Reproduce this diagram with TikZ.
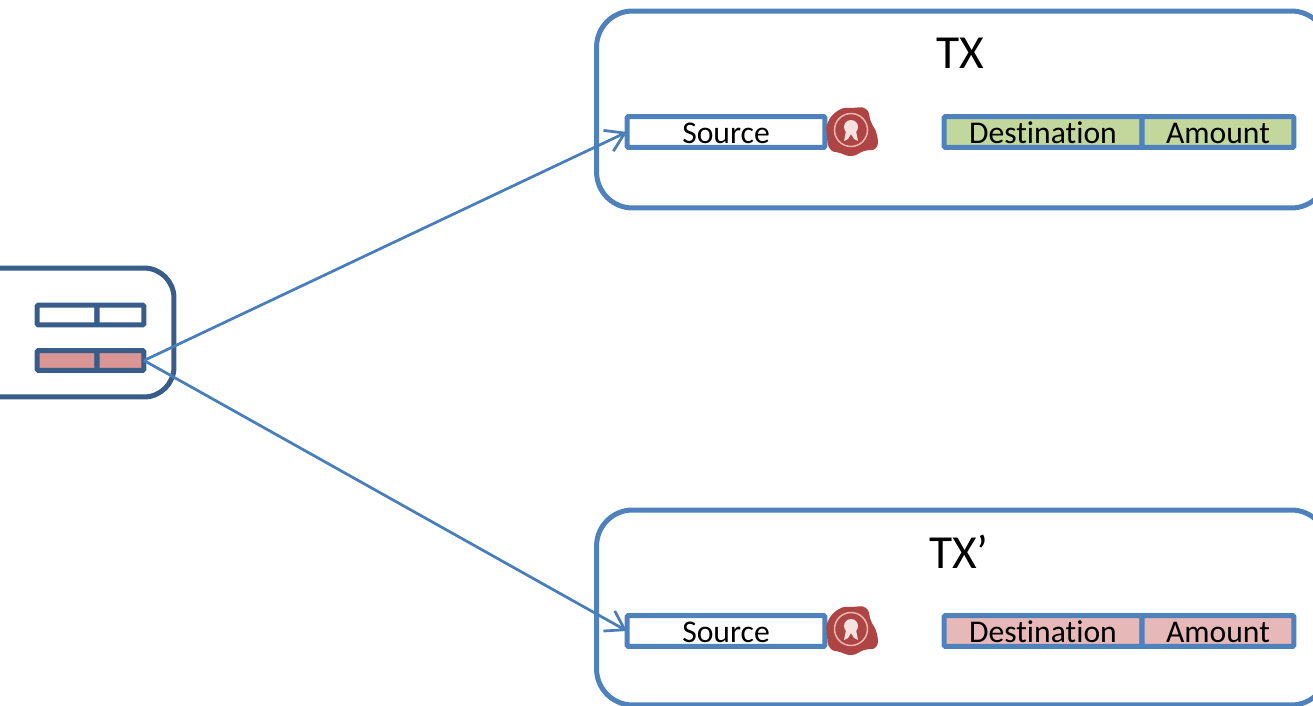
\documentclass[tikz,border=0pt]{standalone}
\usepackage{fontspec}
\setmainfont[Ligatures=NoCommon]{Carlito}
\usetikzlibrary{arrows.meta}
\definecolor{boxblue}{HTML}{4F81BD}
\definecolor{darkblue}{HTML}{385D8A}
\definecolor{linkblue}{HTML}{4A7EBB}
\definecolor{fillgreen}{HTML}{C3D69B}
\definecolor{fillpink}{HTML}{E6B9B8}
\definecolor{fillred}{HTML}{D99694}
\definecolor{sealred}{HTML}{AE4444}
\definecolor{sealring}{HTML}{E8B8B0}
\tikzset{
  txbox/.style={draw=boxblue, line width=0.1cm, rounded corners=0.72cm, inner sep=0pt, outer sep=0pt},
  field/.style={draw=boxblue, line width=0.1cm, rounded corners=0.03cm, inner sep=0pt, outer sep=0pt, minimum height=0.62cm, text height=0.47cm, text depth=0pt, font=\fontsize{18}{18}\selectfont},
  cell/.style={draw=darkblue, line width=0.1cm, rounded corners=0.03cm, inner sep=0pt, outer sep=0pt, minimum height=0.4cm},
  title/.style={inner sep=0pt, font=\fontsize{27}{27}\selectfont},
  link/.style={linkblue, line width=0.055cm, -{Straight Barb[length=0.36cm,width=0.46cm]}},
}
\newcommand{\waxseal}[2]{
  \begin{scope}[shift={(#1,#2)}]
    \fill[sealred] plot[smooth cycle, tension=0.8] coordinates {(-24,-10) (-13,-22) (0,-24) (14,-23) (19,-10) (25,3) (24,16) (12,19) (0,24) (-12,21) (-22,17) (-25,4)};
    \draw[sealring, line width=0.03cm] (-1,-2) circle (0.33cm);
    \fill[sealring!40!white] (-1,-5) circle (0.14cm);
    \fill[sealring!40!white] (-6,-1) -- (-1,0) -- (4,-1) -- (6,9) -- (2,7) -- (-1,2) -- (-4,7) -- (-8,9) -- cycle;
  \end{scope}
}
\begin{document}
\begin{tikzpicture}[x=0.02cm,y=-0.02cm]
  \useasboundingbox (0,0) rectangle (1313,706);
  \clip (0,0) rectangle (1313,706);
  % Transactions
  \node[txbox, minimum width=14.62cm, minimum height=3.94cm] (txone) at (962,109.5) {};
  \node[txbox, minimum width=14.62cm, minimum height=3.90cm] (txtwo) at (962,607.5) {};
  \node[title] (txonelabel) at (960,53) {TX};
  \node[title] (txtwolabel) at (959,552) {TX’};
  % First row of fields
  \node[field, minimum width=3.96cm, fill=white] (srcone) at (726,132) {Source};
  \node[field, minimum width=3.96cm, fill=fillgreen] (dstone) at (1043,132) {Destination};
  \node[field, minimum width=3.04cm, fill=fillgreen] (amtone) at (1218,132) {Amount};
  \waxseal{852}{132}
  % Second row of fields
  \node[field, minimum width=3.96cm, fill=white] (srctwo) at (726,631) {Source};
  \node[field, minimum width=3.96cm, fill=fillpink] (dsttwo) at (1043,631) {Destination};
  \node[field, minimum width=3.04cm, fill=fillpink] (amttwo) at (1218,631) {Amount};
  \waxseal{852}{631}
  % Block on the left
  \node[draw=darkblue, line width=0.1cm, rounded corners=0.6cm, inner sep=0pt, outer sep=0pt, minimum width=4.6cm, minimum height=2.58cm] (block) at (59,332.5) {};
  \node[cell, minimum width=1.2cm, fill=white] (celltl) at (67,315) {};
  \node[cell, minimum width=0.94cm, fill=white] (celltr) at (120.5,315) {};
  \node[cell, minimum width=1.2cm, fill=fillred] (cellbl) at (67,360.5) {};
  \node[cell, minimum width=0.94cm, fill=fillred] (cellbr) at (120.5,360.5) {};
  % Spend edges
  \draw[link] (cellbr.east) -- (srcone.west);
  \draw[link] (cellbr.east) -- (srctwo.west);
\end{tikzpicture}
\end{document}
